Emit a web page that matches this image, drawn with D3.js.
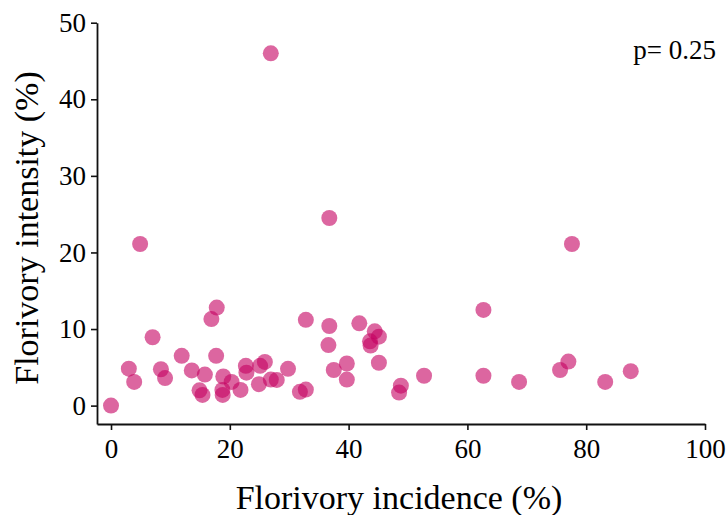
<!DOCTYPE html>
<html>
<head>
<meta charset="utf-8">
<script src="https://cdn.jsdelivr.net/npm/d3@7"></script>
<style>
  html, body { margin: 0; padding: 0; background: #fff; }
  svg { display: block; }
  text { font-family: "Liberation Serif", "Times New Roman", serif; fill: #000; }
</style>
</head>
<body>
<svg id="chart" width="726" height="515"></svg>
<script>
// Florivory incidence (%) per plant
const incidence = [0, 3.0, 3.9, 4.9, 7.0, 8.4, 9.1, 11.9, 13.6, 14.9, 15.4, 15.8, 16.9, 17.8, 17.7,
  18.9, 18.75, 18.8, 20.3, 21.8, 22.7, 22.8, 24.9, 25.1, 25.9, 26.9, 26.9, 27.9, 29.8, 31.8,
  32.8, 32.8, 36.75, 36.75, 36.6, 37.5, 39.7, 39.7, 41.8, 44.4, 45.1, 43.6, 43.7, 45.1, 48.8,
  48.5, 52.7, 62.7, 62.7, 68.7, 75.6, 77.0, 77.6, 83.2, 87.5];
// Florivory intensity (%) per plant
const intensity = [0, 4.83, 3.1, 21.1, 8.93, 4.75, 3.6, 6.5, 4.6, 2.0, 1.4, 4.05, 11.3, 12.8, 6.5,
  3.8, 2.05, 1.4, 3.1, 2.05, 5.2, 4.3, 2.8, 5.2, 5.7, 46.0, 3.4, 3.35, 4.8, 1.8,
  2.1, 11.2, 24.5, 10.4, 7.9, 4.65, 5.5, 3.4, 10.75, 9.7, 9.0, 8.4, 7.85, 5.6, 2.6,
  1.7, 3.9, 12.5, 3.9, 3.1, 4.65, 5.75, 21.1, 3.1, 4.5];

const xTicks = [0, 20, 40, 60, 80, 100];
const yTicks = [0, 10, 20, 30, 40, 50];
const xTitle = "Florivory incidence (%)";
const yTitle = "Florivory intensity (%)";
const pLabel = "p= 0.25";

const points = incidence.map((v, i) => ({ x: v, y: intensity[i] }));

const svg = d3.select("#chart");

// Panel spans a little past zero on both axes
const x = d3.scaleLinear().domain([-2.36, 100]).range([97, 705]);
const y = d3.scaleLinear().domain([-2.4, 50]).range([424, 22.7]);

const xAxis = svg.append("g")
  .attr("transform", `translate(0,${y.range()[0]})`)
  .call(d3.axisBottom(x).tickValues(xTicks).tickSizeOuter(0).tickSizeInner(6).tickPadding(9));

const yAxis = svg.append("g")
  .attr("transform", `translate(${x.range()[0]},0)`)
  .call(d3.axisLeft(y).tickValues(yTicks).tickSizeOuter(0).tickSizeInner(6).tickPadding(5));

[xAxis, yAxis].forEach(g => {
  g.select(".domain").attr("stroke", "#111").attr("stroke-width", 1.8);
  g.selectAll(".tick line").attr("stroke", "#111").attr("stroke-width", 1.6);
  g.selectAll(".tick text")
    .style("font-family", '"Liberation Serif", "Times New Roman", serif')
    .style("font-size", "27px")
    .attr("fill", "#000");
});

// Scatter points
svg.append("g")
  .selectAll("circle")
  .data(points)
  .join("circle")
  .attr("cx", d => x(d.x))
  .attr("cy", d => y(d.y))
  .attr("r", 8)
  .attr("fill", "rgb(197,0,97)")
  .attr("fill-opacity", 0.6);

// Axis titles
svg.append("text")
  .attr("x", 399)
  .attr("y", 509)
  .attr("text-anchor", "middle")
  .style("font-size", "34px")
  .text(xTitle);

svg.append("text")
  .attr("transform", "translate(38,228) rotate(-90)")
  .attr("text-anchor", "middle")
  .style("font-size", "34px")
  .text(yTitle);

// Correlation p-value
svg.append("text")
  .attr("x", 716)
  .attr("y", 59)
  .attr("text-anchor", "end")
  .style("font-size", "27px")
  .text(pLabel);
</script>
</body>
</html>
